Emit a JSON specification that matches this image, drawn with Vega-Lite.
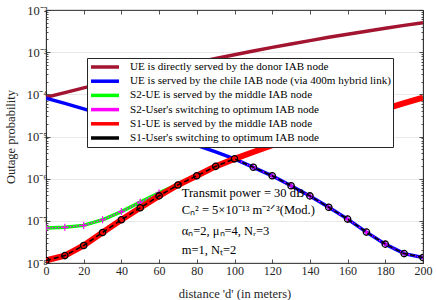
{
  "$schema": "https://vega.github.io/schema/vega-lite/v6.json",
  "width": 377,
  "height": 253,
  "autosize": {"type": "none"},
  "padding": {"left": 46, "top": 10, "right": 13, "bottom": 37},
  "background": "white",
  "config": {
    "font": "Liberation Serif",
    "view": {"stroke": "#262626", "strokeWidth": 0.8},
    "axis": {
      "domainColor": "#262626", "domainWidth": 0.8,
      "tickColor": "#262626", "tickWidth": 0.8,
      "labelColor": "#262626", "titleColor": "#262626",
      "labelFont": "Liberation Serif", "titleFont": "Liberation Serif",
      "labelFontSize": 12.5, "titleFontSize": 12.5, "titleFontWeight": "normal",
      "gridColor": "#e3e3e3", "gridWidth": 0.8,
      "labelOverlap": false, "labelSeparation": 0
    }
  },
  "datasets": {
    "curves": [
      {"series": "UE is directly served by the donor IAB node", "d": 0, "p": 8.5e-5},
      {"series": "UE is directly served by the donor IAB node", "d": 10, "p": 1.10e-4},
      {"series": "UE is directly served by the donor IAB node", "d": 20, "p": 1.42e-4},
      {"series": "UE is directly served by the donor IAB node", "d": 30, "p": 1.82e-4},
      {"series": "UE is directly served by the donor IAB node", "d": 40, "p": 2.31e-4},
      {"series": "UE is directly served by the donor IAB node", "d": 50, "p": 2.93e-4},
      {"series": "UE is directly served by the donor IAB node", "d": 60, "p": 3.68e-4},
      {"series": "UE is directly served by the donor IAB node", "d": 70, "p": 4.61e-4},
      {"series": "UE is directly served by the donor IAB node", "d": 80, "p": 5.73e-4},
      {"series": "UE is directly served by the donor IAB node", "d": 90, "p": 7.09e-4},
      {"series": "UE is directly served by the donor IAB node", "d": 100, "p": 8.71e-4},
      {"series": "UE is directly served by the donor IAB node", "d": 110, "p": 1.07e-3},
      {"series": "UE is directly served by the donor IAB node", "d": 120, "p": 1.30e-3},
      {"series": "UE is directly served by the donor IAB node", "d": 130, "p": 1.57e-3},
      {"series": "UE is directly served by the donor IAB node", "d": 140, "p": 1.88e-3},
      {"series": "UE is directly served by the donor IAB node", "d": 150, "p": 2.25e-3},
      {"series": "UE is directly served by the donor IAB node", "d": 160, "p": 2.67e-3},
      {"series": "UE is directly served by the donor IAB node", "d": 170, "p": 3.15e-3},
      {"series": "UE is directly served by the donor IAB node", "d": 180, "p": 3.70e-3},
      {"series": "UE is directly served by the donor IAB node", "d": 190, "p": 4.32e-3},
      {"series": "UE is directly served by the donor IAB node", "d": 200, "p": 5.01e-3},

      {"series": "UE is served by the chile IAB node (via 400m hybrid link)", "d": 0, "p": 8.13e-5},
      {"series": "UE is served by the chile IAB node (via 400m hybrid link)", "d": 10, "p": 6.10e-5},
      {"series": "UE is served by the chile IAB node (via 400m hybrid link)", "d": 20, "p": 4.53e-5},
      {"series": "UE is served by the chile IAB node (via 400m hybrid link)", "d": 30, "p": 3.33e-5},
      {"series": "UE is served by the chile IAB node (via 400m hybrid link)", "d": 40, "p": 2.43e-5},
      {"series": "UE is served by the chile IAB node (via 400m hybrid link)", "d": 50, "p": 1.75e-5},
      {"series": "UE is served by the chile IAB node (via 400m hybrid link)", "d": 60, "p": 1.25e-5},
      {"series": "UE is served by the chile IAB node (via 400m hybrid link)", "d": 70, "p": 8.85e-6},
      {"series": "UE is served by the chile IAB node (via 400m hybrid link)", "d": 80, "p": 6.19e-6},
      {"series": "UE is served by the chile IAB node (via 400m hybrid link)", "d": 90, "p": 4.30e-6},
      {"series": "UE is served by the chile IAB node (via 400m hybrid link)", "d": 100, "p": 2.95e-6},
      {"series": "UE is served by the chile IAB node (via 400m hybrid link)", "d": 110, "p": 1.86e-6},
      {"series": "UE is served by the chile IAB node (via 400m hybrid link)", "d": 120, "p": 1.17e-6},
      {"series": "UE is served by the chile IAB node (via 400m hybrid link)", "d": 130, "p": 6.8e-7},
      {"series": "UE is served by the chile IAB node (via 400m hybrid link)", "d": 140, "p": 3.9e-7},
      {"series": "UE is served by the chile IAB node (via 400m hybrid link)", "d": 150, "p": 2.1e-7},
      {"series": "UE is served by the chile IAB node (via 400m hybrid link)", "d": 160, "p": 1.1e-7},
      {"series": "UE is served by the chile IAB node (via 400m hybrid link)", "d": 170, "p": 5.4e-8},
      {"series": "UE is served by the chile IAB node (via 400m hybrid link)", "d": 180, "p": 2.8e-8},
      {"series": "UE is served by the chile IAB node (via 400m hybrid link)", "d": 190, "p": 1.67e-8},
      {"series": "UE is served by the chile IAB node (via 400m hybrid link)", "d": 200, "p": 1.35e-8},

      {"series": "S2-UE is served by the middle IAB node", "d": 0, "p": 6.8e-8},
      {"series": "S2-UE is served by the middle IAB node", "d": 10, "p": 7.0e-8},
      {"series": "S2-UE is served by the middle IAB node", "d": 20, "p": 7.8e-8},
      {"series": "S2-UE is served by the middle IAB node", "d": 30, "p": 1.06e-7},
      {"series": "S2-UE is served by the middle IAB node", "d": 40, "p": 1.66e-7},
      {"series": "S2-UE is served by the middle IAB node", "d": 50, "p": 2.77e-7},
      {"series": "S2-UE is served by the middle IAB node", "d": 60, "p": 4.6e-7},
      {"series": "S2-UE is served by the middle IAB node", "d": 70, "p": 7.3e-7},
      {"series": "S2-UE is served by the middle IAB node", "d": 80, "p": 1.17e-6},
      {"series": "S2-UE is served by the middle IAB node", "d": 90, "p": 1.96e-6},
      {"series": "S2-UE is served by the middle IAB node", "d": 100, "p": 2.95e-6},
      {"series": "S2-UE is served by the middle IAB node", "d": 110, "p": 4.30e-6},
      {"series": "S2-UE is served by the middle IAB node", "d": 120, "p": 6.2e-6},
      {"series": "S2-UE is served by the middle IAB node", "d": 130, "p": 8.9e-6},
      {"series": "S2-UE is served by the middle IAB node", "d": 140, "p": 1.26e-5},
      {"series": "S2-UE is served by the middle IAB node", "d": 150, "p": 1.76e-5},
      {"series": "S2-UE is served by the middle IAB node", "d": 160, "p": 2.45e-5},
      {"series": "S2-UE is served by the middle IAB node", "d": 170, "p": 3.35e-5},
      {"series": "S2-UE is served by the middle IAB node", "d": 180, "p": 4.55e-5},
      {"series": "S2-UE is served by the middle IAB node", "d": 190, "p": 6.15e-5},
      {"series": "S2-UE is served by the middle IAB node", "d": 200, "p": 8.4e-5},

      {"series": "S2-User's switching to optimum IAB node", "d": 0, "p": 6.8e-8},
      {"series": "S2-User's switching to optimum IAB node", "d": 10, "p": 7.0e-8},
      {"series": "S2-User's switching to optimum IAB node", "d": 20, "p": 7.8e-8},
      {"series": "S2-User's switching to optimum IAB node", "d": 30, "p": 1.06e-7},
      {"series": "S2-User's switching to optimum IAB node", "d": 40, "p": 1.66e-7},
      {"series": "S2-User's switching to optimum IAB node", "d": 50, "p": 2.77e-7},
      {"series": "S2-User's switching to optimum IAB node", "d": 60, "p": 4.6e-7},
      {"series": "S2-User's switching to optimum IAB node", "d": 70, "p": 7.3e-7},
      {"series": "S2-User's switching to optimum IAB node", "d": 80, "p": 1.17e-6},
      {"series": "S2-User's switching to optimum IAB node", "d": 90, "p": 1.96e-6},
      {"series": "S2-User's switching to optimum IAB node", "d": 100, "p": 2.95e-6},
      {"series": "S2-User's switching to optimum IAB node", "d": 110, "p": 1.86e-6},
      {"series": "S2-User's switching to optimum IAB node", "d": 120, "p": 1.17e-6},
      {"series": "S2-User's switching to optimum IAB node", "d": 130, "p": 6.8e-7},
      {"series": "S2-User's switching to optimum IAB node", "d": 140, "p": 3.9e-7},
      {"series": "S2-User's switching to optimum IAB node", "d": 150, "p": 2.1e-7},
      {"series": "S2-User's switching to optimum IAB node", "d": 160, "p": 1.1e-7},
      {"series": "S2-User's switching to optimum IAB node", "d": 170, "p": 5.4e-8},
      {"series": "S2-User's switching to optimum IAB node", "d": 180, "p": 2.8e-8},
      {"series": "S2-User's switching to optimum IAB node", "d": 190, "p": 1.67e-8},
      {"series": "S2-User's switching to optimum IAB node", "d": 200, "p": 1.35e-8},

      {"series": "S1-UE is served by the middle IAB node", "d": 0, "p": 1.15e-8},
      {"series": "S1-UE is served by the middle IAB node", "d": 10, "p": 1.5e-8},
      {"series": "S1-UE is served by the middle IAB node", "d": 20, "p": 2.6e-8},
      {"series": "S1-UE is served by the middle IAB node", "d": 30, "p": 5.3e-8},
      {"series": "S1-UE is served by the middle IAB node", "d": 40, "p": 1.06e-7},
      {"series": "S1-UE is served by the middle IAB node", "d": 50, "p": 2.04e-7},
      {"series": "S1-UE is served by the middle IAB node", "d": 60, "p": 3.9e-7},
      {"series": "S1-UE is served by the middle IAB node", "d": 70, "p": 7.1e-7},
      {"series": "S1-UE is served by the middle IAB node", "d": 80, "p": 1.17e-6},
      {"series": "S1-UE is served by the middle IAB node", "d": 90, "p": 1.96e-6},
      {"series": "S1-UE is served by the middle IAB node", "d": 100, "p": 2.95e-6},
      {"series": "S1-UE is served by the middle IAB node", "d": 110, "p": 4.30e-6},
      {"series": "S1-UE is served by the middle IAB node", "d": 120, "p": 6.2e-6},
      {"series": "S1-UE is served by the middle IAB node", "d": 130, "p": 8.9e-6},
      {"series": "S1-UE is served by the middle IAB node", "d": 140, "p": 1.26e-5},
      {"series": "S1-UE is served by the middle IAB node", "d": 150, "p": 1.76e-5},
      {"series": "S1-UE is served by the middle IAB node", "d": 160, "p": 2.45e-5},
      {"series": "S1-UE is served by the middle IAB node", "d": 170, "p": 3.35e-5},
      {"series": "S1-UE is served by the middle IAB node", "d": 180, "p": 4.55e-5},
      {"series": "S1-UE is served by the middle IAB node", "d": 190, "p": 6.15e-5},
      {"series": "S1-UE is served by the middle IAB node", "d": 200, "p": 8.4e-5},

      {"series": "S1-User's switching to optimum IAB node", "d": 0, "p": 1.15e-8},
      {"series": "S1-User's switching to optimum IAB node", "d": 10, "p": 1.5e-8},
      {"series": "S1-User's switching to optimum IAB node", "d": 20, "p": 2.6e-8},
      {"series": "S1-User's switching to optimum IAB node", "d": 30, "p": 5.3e-8},
      {"series": "S1-User's switching to optimum IAB node", "d": 40, "p": 1.06e-7},
      {"series": "S1-User's switching to optimum IAB node", "d": 50, "p": 2.04e-7},
      {"series": "S1-User's switching to optimum IAB node", "d": 60, "p": 3.9e-7},
      {"series": "S1-User's switching to optimum IAB node", "d": 70, "p": 7.1e-7},
      {"series": "S1-User's switching to optimum IAB node", "d": 80, "p": 1.17e-6},
      {"series": "S1-User's switching to optimum IAB node", "d": 90, "p": 1.96e-6},
      {"series": "S1-User's switching to optimum IAB node", "d": 100, "p": 2.95e-6},
      {"series": "S1-User's switching to optimum IAB node", "d": 110, "p": 1.86e-6},
      {"series": "S1-User's switching to optimum IAB node", "d": 120, "p": 1.17e-6},
      {"series": "S1-User's switching to optimum IAB node", "d": 130, "p": 6.8e-7},
      {"series": "S1-User's switching to optimum IAB node", "d": 140, "p": 3.9e-7},
      {"series": "S1-User's switching to optimum IAB node", "d": 150, "p": 2.1e-7},
      {"series": "S1-User's switching to optimum IAB node", "d": 160, "p": 1.1e-7},
      {"series": "S1-User's switching to optimum IAB node", "d": 170, "p": 5.4e-8},
      {"series": "S1-User's switching to optimum IAB node", "d": 180, "p": 2.8e-8},
      {"series": "S1-User's switching to optimum IAB node", "d": 190, "p": 1.67e-8},
      {"series": "S1-User's switching to optimum IAB node", "d": 200, "p": 1.35e-8}
    ],
    "notes": [
      {"d": 72, "p": 4.6e-7, "t": "Transmit power = 30 dB"},
      {"d": 72, "p": 1.82e-7, "t": "Cₙ² = 5×10⁻¹³ m⁻²ᐟ³(Mod.)"},
      {"d": 72, "p": 5.6e-8, "t": "αₙ=2, μₙ=4, Nᵣ=3"},
      {"d": 72, "p": 2.0e-8, "t": "m=1, Nₜ=2"}
    ]
  },
  "layer": [
    {
      "data": {"name": "curves"},
      "layer": [
        {
          "transform": [{"filter": {"field": "series", "equal": "UE is directly served by the donor IAB node"}}],
          "mark": {"type": "line", "strokeWidth": 3.5, "clip": true},
          "encoding": {
            "x": {"field": "d", "type": "quantitative", "scale": {"domain": [0, 200], "nice": false},
              "axis": {"orient": "bottom", "values": [0, 20, 40, 60, 80, 100, 120, 140, 160, 180, 200], "tickCount": 11, "format": "d", "title": "distance 'd' (in meters)", "tickSize": -4, "labelPadding": 6, "grid": false, "titleX": 188.5, "titleY": 30, "titleBaseline": "middle", "labelFlush": false, "labelOverlap": false, "labelSeparation": 0, "labelFontSize": 12}},
            "y": {"field": "p", "type": "quantitative", "scale": {"type": "log", "domain": [1e-8, 1e-2], "nice": false},
              "axis": {
                "orient": "left",
                "title": "Outage probability", "titleX": -36, "titleY": 126.5, "titleBaseline": "middle", "titleAlign": "center", "titleAngle": -90,
                "values": [1e-8,2e-8,3e-8,4e-8,5e-8,6e-8,7e-8,8e-8,9e-8,1e-7,2e-7,3e-7,4e-7,5e-7,6e-7,7e-7,8e-7,9e-7,1e-6,2e-6,3e-6,4e-6,5e-6,6e-6,7e-6,8e-6,9e-6,1e-5,2e-5,3e-5,4e-5,5e-5,6e-5,7e-5,8e-5,9e-5,1e-4,2e-4,3e-4,4e-4,5e-4,6e-4,7e-4,8e-4,9e-4,1e-3,2e-3,3e-3,4e-3,5e-3,6e-3,7e-3,8e-3,9e-3,1e-2],
                "labelExpr": "abs(log(datum.value)/LN10 - round(log(datum.value)/LN10)) < 0.01 ? '10' + ['⁻⁸','⁻⁷','⁻⁶','⁻⁵','⁻⁴','⁻³','⁻²'][round(log(datum.value)/LN10)+8] : ''",
                "labelOverlap": false, "labelPadding": 3,
                "tickSize": {"condition": {"test": "abs(log(datum.value)/LN10 - round(log(datum.value)/LN10)) < 0.01", "value": -4}, "value": -2},
                "grid": true,
                "gridOpacity": {"condition": {"test": "abs(log(datum.value)/LN10 - round(log(datum.value)/LN10)) < 0.01", "value": 1}, "value": 0}
              }},
            "color": {"field": "series", "type": "nominal",
              "scale": {
                "domain": ["UE is directly served by the donor IAB node", "UE is served by the chile IAB node (via 400m hybrid link)", "S2-UE is served by the middle IAB node", "S2-User's switching to optimum IAB node", "S1-UE is served by the middle IAB node", "S1-User's switching to optimum IAB node"],
                "range": ["#A2142F", "#0000FF", "#00FF00", "#FF00FF", "#FF0000", "#000000"]
              },
              "legend": {
                "title": null, "orient": "none", "legendX": 41, "legendY": 48, "direction": "vertical",
                "symbolType": "M-2.8,0L2.8,0", "symbolSize": 100, "symbolStrokeWidth": 3.5, "symbolOffset": 9,
                "labelOffset": 18, "labelFont": "Liberation Serif", "labelFontSize": 11.1, "labelColor": "#000000", "labelLimit": 400,
                "rowPadding": 0.2, "padding": 2, "fillColor": "white", "strokeColor": "#262626"
              }}
          }
        },
        {
          "transform": [{"filter": {"field": "series", "equal": "UE is served by the chile IAB node (via 400m hybrid link)"}}],
          "mark": {"type": "line", "strokeWidth": 3.5, "clip": true},
          "encoding": {"x": {"field": "d", "type": "quantitative"}, "y": {"field": "p", "type": "quantitative"}, "color": {"field": "series", "type": "nominal"}}
        },
        {
          "transform": [{"filter": {"field": "series", "equal": "S2-UE is served by the middle IAB node"}}],
          "mark": {"type": "line", "strokeWidth": 3.5, "clip": true},
          "encoding": {"x": {"field": "d", "type": "quantitative"}, "y": {"field": "p", "type": "quantitative"}, "color": {"field": "series", "type": "nominal"}}
        },
        {
          "transform": [{"filter": {"field": "series", "equal": "S2-User's switching to optimum IAB node"}}],
          "mark": {"type": "line", "strokeWidth": 1.3, "strokeDash": [1.5, 1.5], "clip": true},
          "encoding": {"x": {"field": "d", "type": "quantitative"}, "y": {"field": "p", "type": "quantitative"}, "color": {"field": "series", "type": "nominal"}}
        },
        {
          "transform": [{"filter": {"field": "series", "equal": "S2-User's switching to optimum IAB node"}}],
          "mark": {"type": "point", "shape": "M-1,0L1,0M0,-1L0,1", "filled": false, "size": 49, "stroke": "#FF00FF", "strokeWidth": 1.2, "opacity": 1, "clip": true},
          "encoding": {"x": {"field": "d", "type": "quantitative"}, "y": {"field": "p", "type": "quantitative"}}
        },
        {
          "transform": [{"filter": {"field": "series", "equal": "S1-UE is served by the middle IAB node"}}],
          "mark": {"type": "line", "strokeWidth": 6, "clip": true},
          "encoding": {"x": {"field": "d", "type": "quantitative"}, "y": {"field": "p", "type": "quantitative"}, "color": {"field": "series", "type": "nominal"}}
        },
        {
          "transform": [{"filter": {"field": "series", "equal": "S1-User's switching to optimum IAB node"}}],
          "mark": {"type": "line", "strokeWidth": 1.5, "strokeDash": [5, 3], "clip": true},
          "encoding": {"x": {"field": "d", "type": "quantitative"}, "y": {"field": "p", "type": "quantitative"}, "color": {"field": "series", "type": "nominal"}}
        },
        {
          "transform": [{"filter": {"field": "series", "equal": "S1-User's switching to optimum IAB node"}}],
          "mark": {"type": "point", "shape": "circle", "filled": false, "size": 40, "stroke": "#000000", "strokeWidth": 1.3, "opacity": 1, "clip": true},
          "encoding": {"x": {"field": "d", "type": "quantitative"}, "y": {"field": "p", "type": "quantitative"}}
        },
        {
          "data": {"name": "notes"},
          "mark": {"type": "text", "align": "left", "baseline": "middle", "fontSize": 12.5, "font": "Liberation Serif", "color": "#000000"},
          "encoding": {"x": {"field": "d", "type": "quantitative"}, "y": {"field": "p", "type": "quantitative"}, "text": {"field": "t"}}
        }
      ]
    },
    {
      "data": {"name": "curves"},
      "mark": {"type": "point", "opacity": 0},
      "encoding": {
        "x": {"field": "d", "type": "quantitative", "scale": {"domain": [0, 200], "nice": false},
          "axis": {"orient": "top", "values": [0, 20, 40, 60, 80, 100, 120, 140, 160, 180, 200], "labels": false, "title": null, "tickSize": -4, "grid": false}},
        "y": {"field": "p", "type": "quantitative", "scale": {"type": "log", "domain": [1e-8, 1e-2], "nice": false},
          "axis": {"orient": "right", "labels": false, "title": null, "grid": false,
            "values": [1e-8,2e-8,3e-8,4e-8,5e-8,6e-8,7e-8,8e-8,9e-8,1e-7,2e-7,3e-7,4e-7,5e-7,6e-7,7e-7,8e-7,9e-7,1e-6,2e-6,3e-6,4e-6,5e-6,6e-6,7e-6,8e-6,9e-6,1e-5,2e-5,3e-5,4e-5,5e-5,6e-5,7e-5,8e-5,9e-5,1e-4,2e-4,3e-4,4e-4,5e-4,6e-4,7e-4,8e-4,9e-4,1e-3,2e-3,3e-3,4e-3,5e-3,6e-3,7e-3,8e-3,9e-3,1e-2],
            "tickSize": {"condition": {"test": "abs(log(datum.value)/LN10 - round(log(datum.value)/LN10)) < 0.01", "value": -4}, "value": -2}}}
      }
    }
  ],
  "resolve": {"axis": {"x": "independent", "y": "independent"}}
}
